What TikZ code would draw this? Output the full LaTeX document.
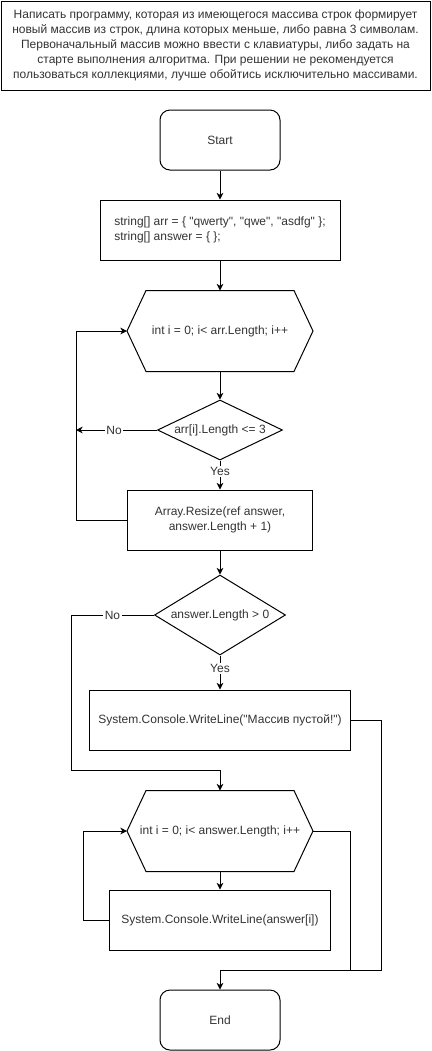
\documentclass[tikz,border=0pt]{standalone}
\usepackage{fontspec}
\setmainfont{Liberation Sans}
\usetikzlibrary{arrows.meta,positioning,calc,shapes.geometric}
\newcommand{\q}{\textquotedbl}
\tikzset{base/.style={draw=black,line width=0.75pt,align=center,
    font=\fontsize{9}{11.25}\selectfont,text=black!80,inner sep=2pt},
  terminal/.style={base,rounded corners=7.5pt,minimum width=90pt,minimum height=45pt},
  procbox/.style={base,minimum height=45pt},
  hexbox/.style={base,draw=none,minimum width=138.75pt,minimum height=60pt},
  decision/.style={base,diamond,inner sep=0pt,aspect=2},
  line/.style={line width=0.75pt,draw=black},
  edge/.style={line,-{Stealth[length=5pt,width=5pt,inset=1.5pt]}},
  lab/.style={fill=white,inner sep=1pt,font=\fontsize{9}{11}\selectfont,text=black!80}}
% hexagon outline round a node
\newcommand{\loophex}[1]{\draw[line] (#1.west) -- ($(#1.north west)+(19,0)$)
  -- ($(#1.north east)+(-19,0)$) -- (#1.east) -- ($(#1.south east)+(-19,0)$)
  -- ($(#1.south west)+(19,0)$) -- cycle;}

\begin{document}
\begin{tikzpicture}[x=0.75pt,y=-0.75pt]
  \useasboundingbox (0,0) rectangle (432,1051);
  % task statement
  \node[base,minimum width=321.75pt,minimum height=66.75pt] (task) at (215.5,45.5)
    {Написать программу, которая из имеющегося массива строк формирует\\
     новый массив из строк, длина которых меньше, либо равна 3 символам.\\
     Первоначальный массив можно ввести с клавиатуры, либо задать на\\
     старте выполнения алгоритма. При решении не рекомендуется\\
     пользоваться коллекциями, лучше обойтись исключительно массивами.};
  % first part
  \node[terminal] (start) at (220,140) {Start};
  \node[procbox,minimum width=180pt,align=left] (init) at (220,230)
    {string[] arr = \{ \q qwerty\q, \q qwe\q, \q asdfg\q\ \};\\string[] answer = \{ \};};
  \node[hexbox] (hex1) at (220,331) {int i = 0; i< arr.Length; i++};
  \loophex{hex1}
  \node[decision,minimum width=93.75pt,minimum height=45pt] (check) at (220,430) {arr[i].Length <= 3};
  \node[procbox,minimum width=138.75pt] (resize) at (220,520) {Array.Resize(ref answer,\\answer.Length + 1)};
  \coordinate (skip1) at (76,430);
  \coordinate (back1) at (76,520);
  \draw[edge] (start) -- (init);
  \draw[edge] (init) -- (hex1);
  \draw[edge] (hex1) -- (check);
  \draw[edge] (check.south) -- node[lab,pos=0.38]{Yes} (resize);
  \draw[edge] (check.west) -- node[lab,pos=0.53]{No} (skip1);
  \draw[edge] (resize.west) -- (back1) |- (hex1.west);
  % second part
  \node[decision,minimum width=98.25pt,minimum height=60pt] (empty) at (220,615) {answer.Length > 0};
  \node[procbox,minimum width=195.75pt] (warn) at (220,720) {System.Console.WriteLine(\q Массив пустой!\q)};
  \node[hexbox] (hex2) at (220,831) {int i = 0; i< answer.Length; i++};
  \loophex{hex2}
  \node[procbox,minimum width=165.75pt] (print) at (220,920) {System.Console.WriteLine(answer[i])};
  \node[terminal] (end) at (220,1020) {End};
  \coordinate (skip2) at (71,770);
  \coordinate (back2) at (83,920);
  \coordinate (join) at (381,970);
  \coordinate (exit) at (350,970);
  \draw[edge] (resize) -- (empty);
  \draw[edge] (empty.south) -- node[lab,pos=0.38]{Yes} (warn);
  \draw[edge] (empty.west) -- node[lab]{No} (empty.west -| skip2) -- (skip2) -| (hex2.north);
  \draw[edge] (hex2) -- (print);
  \draw[edge] (print.west) -- (back2) |- (hex2.west);
  \draw[line] (hex2.east) -| (exit);
  \draw[edge] (warn.east) -| (join) -| (end.north);
\end{tikzpicture}
\end{document}
